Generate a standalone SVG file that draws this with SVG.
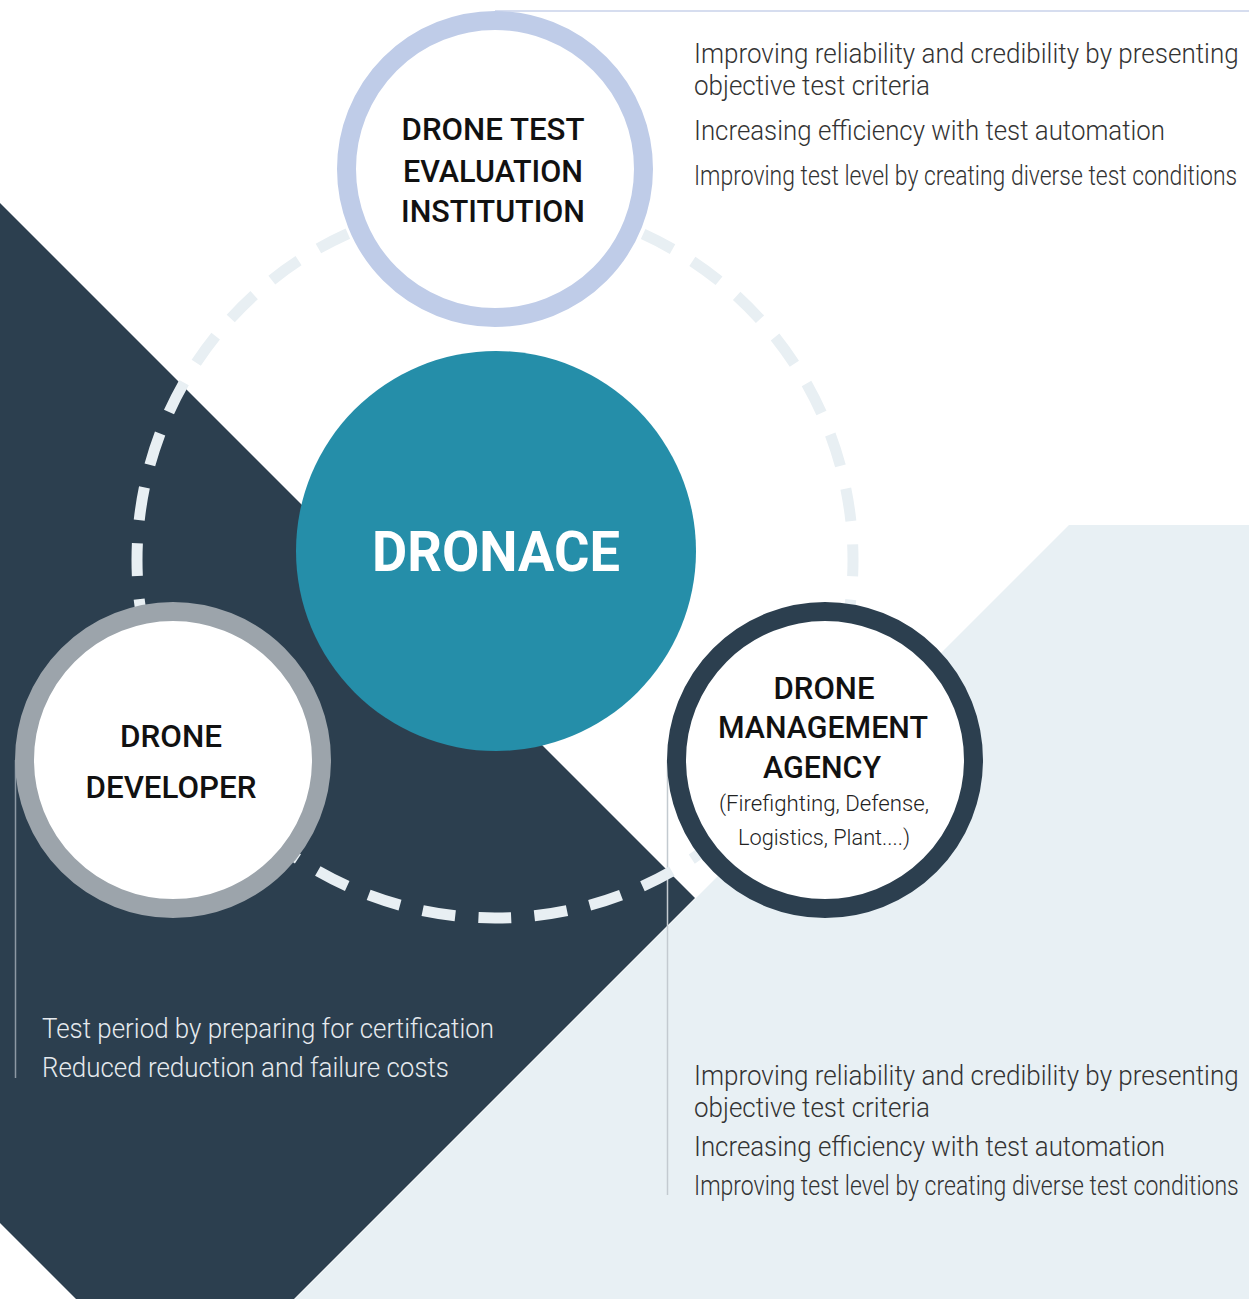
<svg xmlns="http://www.w3.org/2000/svg" width="1249" height="1299" viewBox="0 0 1249 1299">
<style>
.body{font-family:Roboto,"Liberation Sans",sans-serif;font-size:27px;font-weight:300;fill:#333}
.light{fill:#e6eaee}
.title{font-family:Roboto,"Liberation Sans",sans-serif;font-size:32px;font-weight:500;fill:#111;text-anchor:middle}
.sub{font-family:Roboto,"Liberation Sans",sans-serif;font-size:22px;font-weight:300;fill:#222;text-anchor:middle}
.ring{fill:#fff;stroke-width:19}
</style>
<rect width="1249" height="1299" fill="#fff"/>
<g id="background">
<polygon points="1069,525 1249,525 1249,1299 295,1299" fill="#e8f0f4"/>
<polygon points="0,203 695,898 294,1299 76,1299 0,1223" fill="#2c3f4f"/>
<line x1="495" y1="11" x2="1249" y2="11" stroke="#c9d2ea" stroke-width="1.5"/>
<line x1="15.5" y1="760" x2="15.5" y2="1078" stroke="#8d99a4" stroke-width="1.5"/>
<line x1="667.5" y1="760" x2="667.5" y2="1195" stroke="#c3cad0" stroke-width="1.5"/>
</g>
<g id="connectors">
<circle cx="495" cy="560" r="358" fill="none" stroke="#e8eff3" stroke-width="11" stroke-dasharray="33 23.23" stroke-dashoffset="16.5"/>
</g>
<g id="node-dronace">
<circle cx="496" cy="551" r="200" fill="#258ea9"/>
<text x="496" y="571" font-family="Roboto,'Liberation Sans',sans-serif" font-size="55" font-weight="700" fill="#fff" text-anchor="middle" textLength="248" lengthAdjust="spacingAndGlyphs">DRONACE</text>
</g>
<g id="node-test-institution">
<circle class="ring" cx="495" cy="169" r="148.5" stroke="#bfcce8"/>
<text class="title" x="493" y="140" textLength="183" lengthAdjust="spacingAndGlyphs">DRONE TEST</text>
<text class="title" x="493" y="182" textLength="180" lengthAdjust="spacingAndGlyphs">EVALUATION</text>
<text class="title" x="493" y="222" textLength="184" lengthAdjust="spacingAndGlyphs">INSTITUTION</text>
</g>
<g id="node-developer">
<circle class="ring" cx="173" cy="760" r="148.5" stroke="#9ca4ab"/>
<text class="title" x="171" y="747" textLength="102" lengthAdjust="spacingAndGlyphs">DRONE</text>
<text class="title" x="171" y="798" textLength="171" lengthAdjust="spacingAndGlyphs">DEVELOPER</text>
</g>
<g id="node-management">
<circle class="ring" cx="825" cy="760" r="148.5" stroke="#2c3f4f"/>
<text class="title" x="824" y="699" textLength="101" lengthAdjust="spacingAndGlyphs">DRONE</text>
<text class="title" x="823" y="738" textLength="210" lengthAdjust="spacingAndGlyphs">MANAGEMENT</text>
<text class="title" x="822" y="778" textLength="118" lengthAdjust="spacingAndGlyphs">AGENCY</text>
<text class="sub" x="824" y="811" textLength="210" lengthAdjust="spacingAndGlyphs">(Firefighting, Defense,</text>
<text class="sub" x="824" y="845" textLength="172" lengthAdjust="spacingAndGlyphs">Logistics, Plant....)</text>
</g>
<g id="text-top">
<text class="body" transform="translate(694 63) scale(0.88 1)" textLength="619" lengthAdjust="spacingAndGlyphs">Improving reliability and credibility by presenting</text>
<text class="body" x="694" y="95" textLength="236" lengthAdjust="spacingAndGlyphs">objective test criteria</text>
<text class="body" x="694" y="140" textLength="471" lengthAdjust="spacingAndGlyphs">Increasing efficiency with test automation</text>
<text class="body" transform="translate(694 185) scale(0.8 1)" textLength="679" lengthAdjust="spacingAndGlyphs">Improving test level by creating diverse test conditions</text>
</g>
<g id="text-developer">
<text class="body light" x="42" y="1038" textLength="452" lengthAdjust="spacingAndGlyphs">Test period by preparing for certification</text>
<text class="body light" x="42" y="1077" textLength="407" lengthAdjust="spacingAndGlyphs">Reduced reduction and failure costs</text>
</g>
<g id="text-management">
<text class="body" transform="translate(694 1085) scale(0.88 1)" textLength="619" lengthAdjust="spacingAndGlyphs">Improving reliability and credibility by presenting</text>
<text class="body" x="694" y="1117" textLength="236" lengthAdjust="spacingAndGlyphs">objective test criteria</text>
<text class="body" x="694" y="1156" textLength="471" lengthAdjust="spacingAndGlyphs">Increasing efficiency with test automation</text>
<text class="body" transform="translate(694 1195) scale(0.8 1)" textLength="681" lengthAdjust="spacingAndGlyphs">Improving test level by creating diverse test conditions</text>
</g>
</svg>
